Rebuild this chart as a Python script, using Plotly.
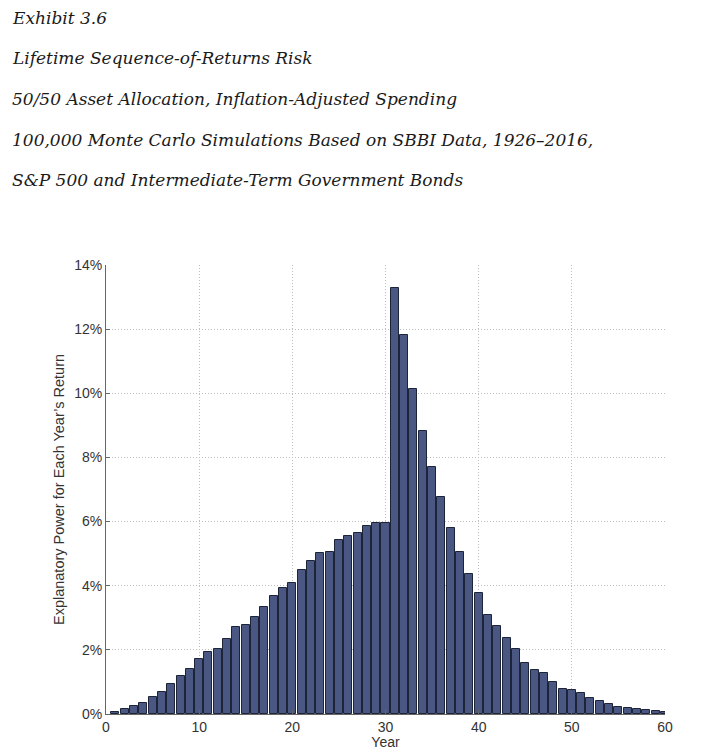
import plotly.graph_objects as go

years = list(range(1, 61))
explanatory_power = [
    0.07, 0.15, 0.26, 0.35, 0.54, 0.70, 0.94, 1.19, 1.40, 1.73,
    1.92, 2.02, 2.35, 2.72, 2.79, 3.02, 3.35, 3.67, 3.92, 4.08,
    4.49, 4.76, 5.01, 5.06, 5.41, 5.56, 5.64, 5.87, 5.95, 5.97,
    13.28, 11.81, 10.14, 8.81, 7.70, 6.77, 5.81, 5.04, 4.37, 3.77,
    3.09, 2.73, 2.38, 2.02, 1.60, 1.38, 1.27, 0.99, 0.79, 0.75,
    0.64, 0.51, 0.41, 0.31, 0.23, 0.19, 0.16, 0.11, 0.08, 0.06,
]
title_lines = [
    "Exhibit 3.6",
    "Lifetime Sequence-of-Returns Risk",
    "50/50 Asset Allocation, Inflation-Adjusted Spending",
    "100,000 Monte Carlo Simulations Based on SBBI Data, 1926\u20132016,",
    "S&P 500 and Intermediate-Term Government Bonds",
]

fig = go.Figure(go.Bar(
    x=years,
    y=[v / 100 for v in explanatory_power],
    width=0.86,
    marker=dict(color="#4b5783", line=dict(color="#1e2438", width=1)),
))

# the page has an 8px body margin, so the figure is drawn 8px smaller
W, H = 708, 742
left, right, top, bottom = 98, 657, 257, 706
for i, line in enumerate(title_lines):
    ypx = 10 + i * 40.5
    fig.add_annotation(
        text=line, xref="paper", yref="paper",
        x=(2 - left) / (right - left), y=(bottom - ypx) / (bottom - top),
        xanchor="left", yanchor="middle", showarrow=False,
        font=dict(family="DejaVu Serif", size=17, color="#1a1a1a", style="italic"),
    )

fig.update_layout(
    width=W, height=H,
    margin=dict(l=left, r=W - right, t=top, b=H - bottom),
    plot_bgcolor="white", paper_bgcolor="white",
    showlegend=False, bargap=0,
    font=dict(family="Liberation Sans", size=14, color="#333333"),
)
fig.update_xaxes(
    range=[0, 60], tickvals=[0, 10, 20, 30, 40, 50, 60],
    showgrid=True, gridcolor="#bdbdbd", griddash="1px,2px", gridwidth=1,
    showline=True, linecolor="#666666", linewidth=1,
    ticks="inside", ticklen=4, tickcolor="#666666",
    title=dict(text="Year", standoff=0, font=dict(size=14)),
    tickfont=dict(size=14), zeroline=False, automargin=False,
)
fig.update_yaxes(
    range=[0, 0.14], dtick=0.02, tickformat=".0%",
    showgrid=True, gridcolor="#bdbdbd", griddash="1px,2px", gridwidth=1,
    showline=True, linecolor="#666666", linewidth=1,
    ticks="inside", ticklen=4, tickcolor="#666666",
    title=dict(text="Explanatory Power for Each Year\u2019s Return", standoff=6, font=dict(size=14.5)),
    tickfont=dict(size=14), zeroline=False, automargin=False,
)

fig.write_html("out.html")
